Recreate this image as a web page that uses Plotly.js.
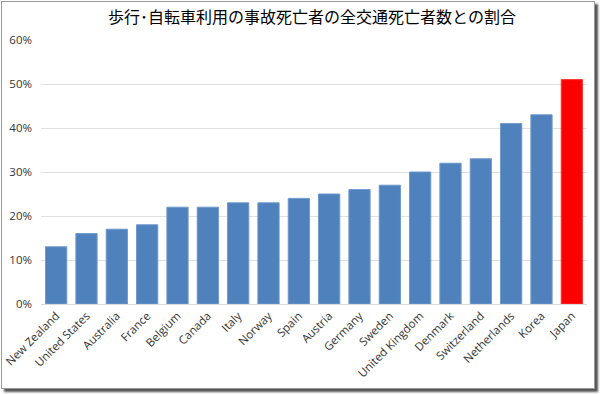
<!DOCTYPE html>
<html><head><meta charset="utf-8">
<script src="https://cdn.plot.ly/plotly-3.0.1.min.js"></script>
<style>
html,body{margin:0;padding:0;background:#fff;}
#wrap{position:absolute;left:0;top:0;width:600px;height:394px;}
#frame{position:absolute;left:1px;top:1px;width:592px;height:386px;border:1px solid #9a9a9a;box-shadow:3px 3px 2px #555;pointer-events:none;}
#chart{position:absolute;left:0;top:0;width:600px;height:394px;}
</style></head>
<body><div id="wrap"><div id="chart"></div><div id="frame"></div></div>
<script>
const countries = ["New Zealand","United States","Australia","France","Belgium","Canada","Italy","Norway","Spain","Austria","Germany","Sweden","United Kingdom","Denmark","Switzerland","Netherlands","Korea","Japan"];
const shares = [0.13,0.16,0.17,0.18,0.22,0.22,0.23,0.23,0.24,0.25,0.26,0.27,0.30,0.32,0.33,0.41,0.43,0.51];
const highlight = "Japan";
const colors = countries.map(c => c === highlight ? "#ff0000" : "#4f81bd");
const lineColors = countries.map(c => c === highlight ? "#ff3333" : "#6f98cc");
Plotly.newPlot("chart", [{
  type: "bar", x: countries, y: shares,
  marker: {color: colors, line: {color: lineColors, width: 1}},
  hoverinfo: "none"
}], {
  width: 600, height: 394,
  margin: {l: 41, r: 13, t: 40, b: 90},
  bargap: 0.3,
  paper_bgcolor: "#fff", plot_bgcolor: "#fff",
  title: {text: "歩行･自転車利用の事故死亡者の全交通死亡者数との割合", x: 0.52, xanchor: "center", y: 0.955, yanchor: "middle",
    font: {family: "Noto Sans CJK JP", size: 16, color: "#000"}},
  xaxis: {tickangle: -45, tickfont: {family: "Open Sans, Liberation Sans", size: 11.5, color: "#333"},
    showline: false, ticks: "", automargin: false, ticklabelstandoff: 2},
  yaxis: {range: [0, 0.6], dtick: 0.1, tickformat: ".0%", gridcolor: "#e0e0e0", gridwidth: 1,
    zeroline: true, zerolinecolor: "#d9d9d9", tickfont: {family: "Open Sans, Liberation Sans", size: 11.5, color: "#333"},
    ticks: "", automargin: false, ticklabelstandoff: 8},
  showlegend: false
}, {staticPlot: true});
</script></body></html>
